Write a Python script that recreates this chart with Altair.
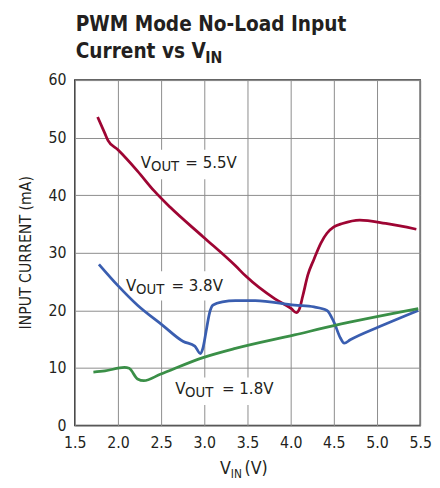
import altair as alt
import pandas as pd

FONT = "DejaVu Sans Condensed, DejaVu Sans, sans-serif"
TXT = "#231f20"

# ---- data ----
v55_x = [1.765, 1.85, 1.886, 2.0, 2.227, 2.417, 2.606, 2.985, 3.364, 3.477, 3.818, 4.008, 4.065,
         4.10, 4.14, 4.20, 4.27, 4.35, 4.42, 4.50, 4.60, 4.8, 5.1, 5.455]
v55_y = [53.6, 50.7, 49.5, 47.9, 44.2, 40.8, 37.9, 32.8, 27.7, 26.0, 22.0, 20.3, 19.6,
         20.2, 22.5, 26.2, 28.9, 31.7, 33.4, 34.5, 35.1, 35.7, 35.1, 34.1]

v38_x = [1.78, 2.0, 2.227, 2.511, 2.757, 2.89, 2.955, 2.985, 3.02, 3.06, 3.1, 3.21, 3.36, 3.59,
         4.045, 4.27, 4.42, 4.5, 4.576, 4.62, 4.69, 5.03, 5.477]
v38_y = [28.0, 24.3, 20.9, 17.5, 14.6, 13.8, 12.5, 13.5, 16.3, 19.5, 20.9, 21.5, 21.7, 21.7,
         20.9, 20.6, 20.0, 18.0, 15.2, 14.3, 14.9, 17.2, 20.0]

v18_x = [1.716, 1.85, 2.076, 2.13, 2.227, 2.30, 2.49, 2.985, 3.36, 4.045, 4.5, 5.477]
v18_y = [9.3, 9.5, 10.1, 9.95, 8.1, 7.8, 8.9, 11.8, 13.4, 15.75, 17.35, 20.3]

series = ["5.5V", "3.8V", "1.8V"]
colors = ["#9e0533", "#3a5eb0", "#3a8f47"]

x_ticks = [1.5, 2.0, 2.5, 3.0, 3.5, 4.0, 4.5, 5.0, 5.5]
y_ticks = [0, 10, 20, 30, 40, 50, 60]

# curve labels: pieces of "V_OUT = x.xV"
lab_text = ["V", "OUT", "= 5.5V", "V", "OUT", "= 3.8V", "V", "OUT", "= 1.8V"]
lab_x = [2.265, 2.383, 2.780, 2.094, 2.210, 2.620, 2.663, 2.778, 3.205]
lab_y = [44.76, 44.2, 44.76, 23.4, 22.8, 23.4, 5.5, 4.95, 5.5]
lab_size = [17, 15, 17, 17, 15, 17, 17, 15, 17]

# white boxes behind labels
box_x = [2.205, 2.034, 2.59]
box_x2 = [3.364, 3.193, 3.727]
box_y = [47.9, 26.8, 8.36]
box_y2 = [42.8, 21.7, 3.58]

rows = []
for name, xs, ys in zip(series, [v55_x, v38_x, v18_x], [v55_y, v38_y, v18_y]):
    for i, (a, b) in enumerate(zip(xs, ys)):
        rows.append({"s": name, "V": a, "I": b, "o": i})
df = pd.DataFrame(rows)

xscale = alt.Scale(domain=[1.5, 5.5], nice=False, zero=False)
yscale = alt.Scale(domain=[0, 60], nice=False)

xaxis = alt.Axis(values=x_ticks, format=".1f", title=None, grid=True, gridColor="#8c8c8c",
                 gridWidth=1, tickSize=0, labelPadding=9, labelFont=FONT, labelFontSize=16,
                 labelColor=TXT, domain=False, labelFlush=False)
yaxis = alt.Axis(values=y_ticks, title=None, grid=True, gridColor="#8c8c8c", gridWidth=1,
                 tickSize=0, labelPadding=9, labelFont=FONT, labelFontSize=16,
                 labelColor=TXT, domain=False, labelFlush=False)

boxes = alt.Chart(pd.DataFrame({"x": box_x, "x2": box_x2, "y": box_y, "y2": box_y2})).mark_rect(
    color="white").encode(
    x=alt.X("x:Q", scale=xscale, axis=xaxis), x2="x2", y=alt.Y("y:Q", scale=yscale, axis=yaxis), y2="y2")

lines = alt.Chart(df).mark_line(strokeWidth=2.8, interpolate="monotone").encode(
    x=alt.X("V:Q", scale=xscale),
    y=alt.Y("I:Q", scale=yscale),
    color=alt.Color("s:N", scale=alt.Scale(domain=series, range=colors), legend=None),
    detail="s:N",
    order="o:Q",
)

labels = alt.Chart(pd.DataFrame({"t": lab_text, "x": lab_x, "y": lab_y, "fs": lab_size})).mark_text(
    align="left", baseline="alphabetic", font=FONT, color=TXT).encode(
    x=alt.X("x:Q", scale=xscale), y=alt.Y("y:Q", scale=yscale), text="t:N",
    size=alt.Size("fs:Q", scale=None, legend=None))

# title and axis titles (pixel positions relative to plot area)
title_text = ["PWM Mode No-Load Input", "Current vs V", "IN"]
title_px = [1, 1, 133]
title_py = [-50, -22.7, -17]
title_fs = [21, 21, 16]
ttl = alt.Chart(pd.DataFrame({"t": title_text, "px": title_px, "py": title_py, "fs": title_fs})).mark_text(
    align="left", baseline="alphabetic", font=FONT, fontWeight="bold", color=TXT).encode(
    x=alt.X("px:Q", scale=None), y=alt.Y("py:Q", scale=None), text="t:N",
    size=alt.Size("fs:Q", scale=None, legend=None))

xt_text = ["V", "IN", "(V)"]
xt_px = [148, 159, 173]
xt_py = [401.5, 405, 401.5]
xt_fs = [18, 12, 18]
xtitle = alt.Chart(pd.DataFrame({"t": xt_text, "px": xt_px, "py": xt_py, "fs": xt_fs})).mark_text(
    align="left", baseline="alphabetic", font=FONT, color=TXT).encode(
    x=alt.X("px:Q", scale=None), y=alt.Y("py:Q", scale=None), text="t:N",
    size=alt.Size("fs:Q", scale=None, legend=None))

ytitle = alt.Chart(pd.DataFrame({"t": ["INPUT CURRENT (mA)"]})).mark_text(
    align="center", baseline="alphabetic", font=FONT, fontSize=16, color=TXT, angle=270).encode(
    x=alt.value(-45), y=alt.value(176), text="t:N")

chart = alt.layer(boxes, lines, labels, ttl, xtitle, ytitle).resolve_scale(size="independent").properties(
    width=352, height=352,
    autosize=alt.AutoSizeParams(type="none"),
    padding={"left": 68, "top": 69, "right": 12, "bottom": 51},
).configure_view(stroke="#333333", strokeWidth=1.5)

chart.save("out.html", embed_options={"renderer": "svg", "actions": False})
